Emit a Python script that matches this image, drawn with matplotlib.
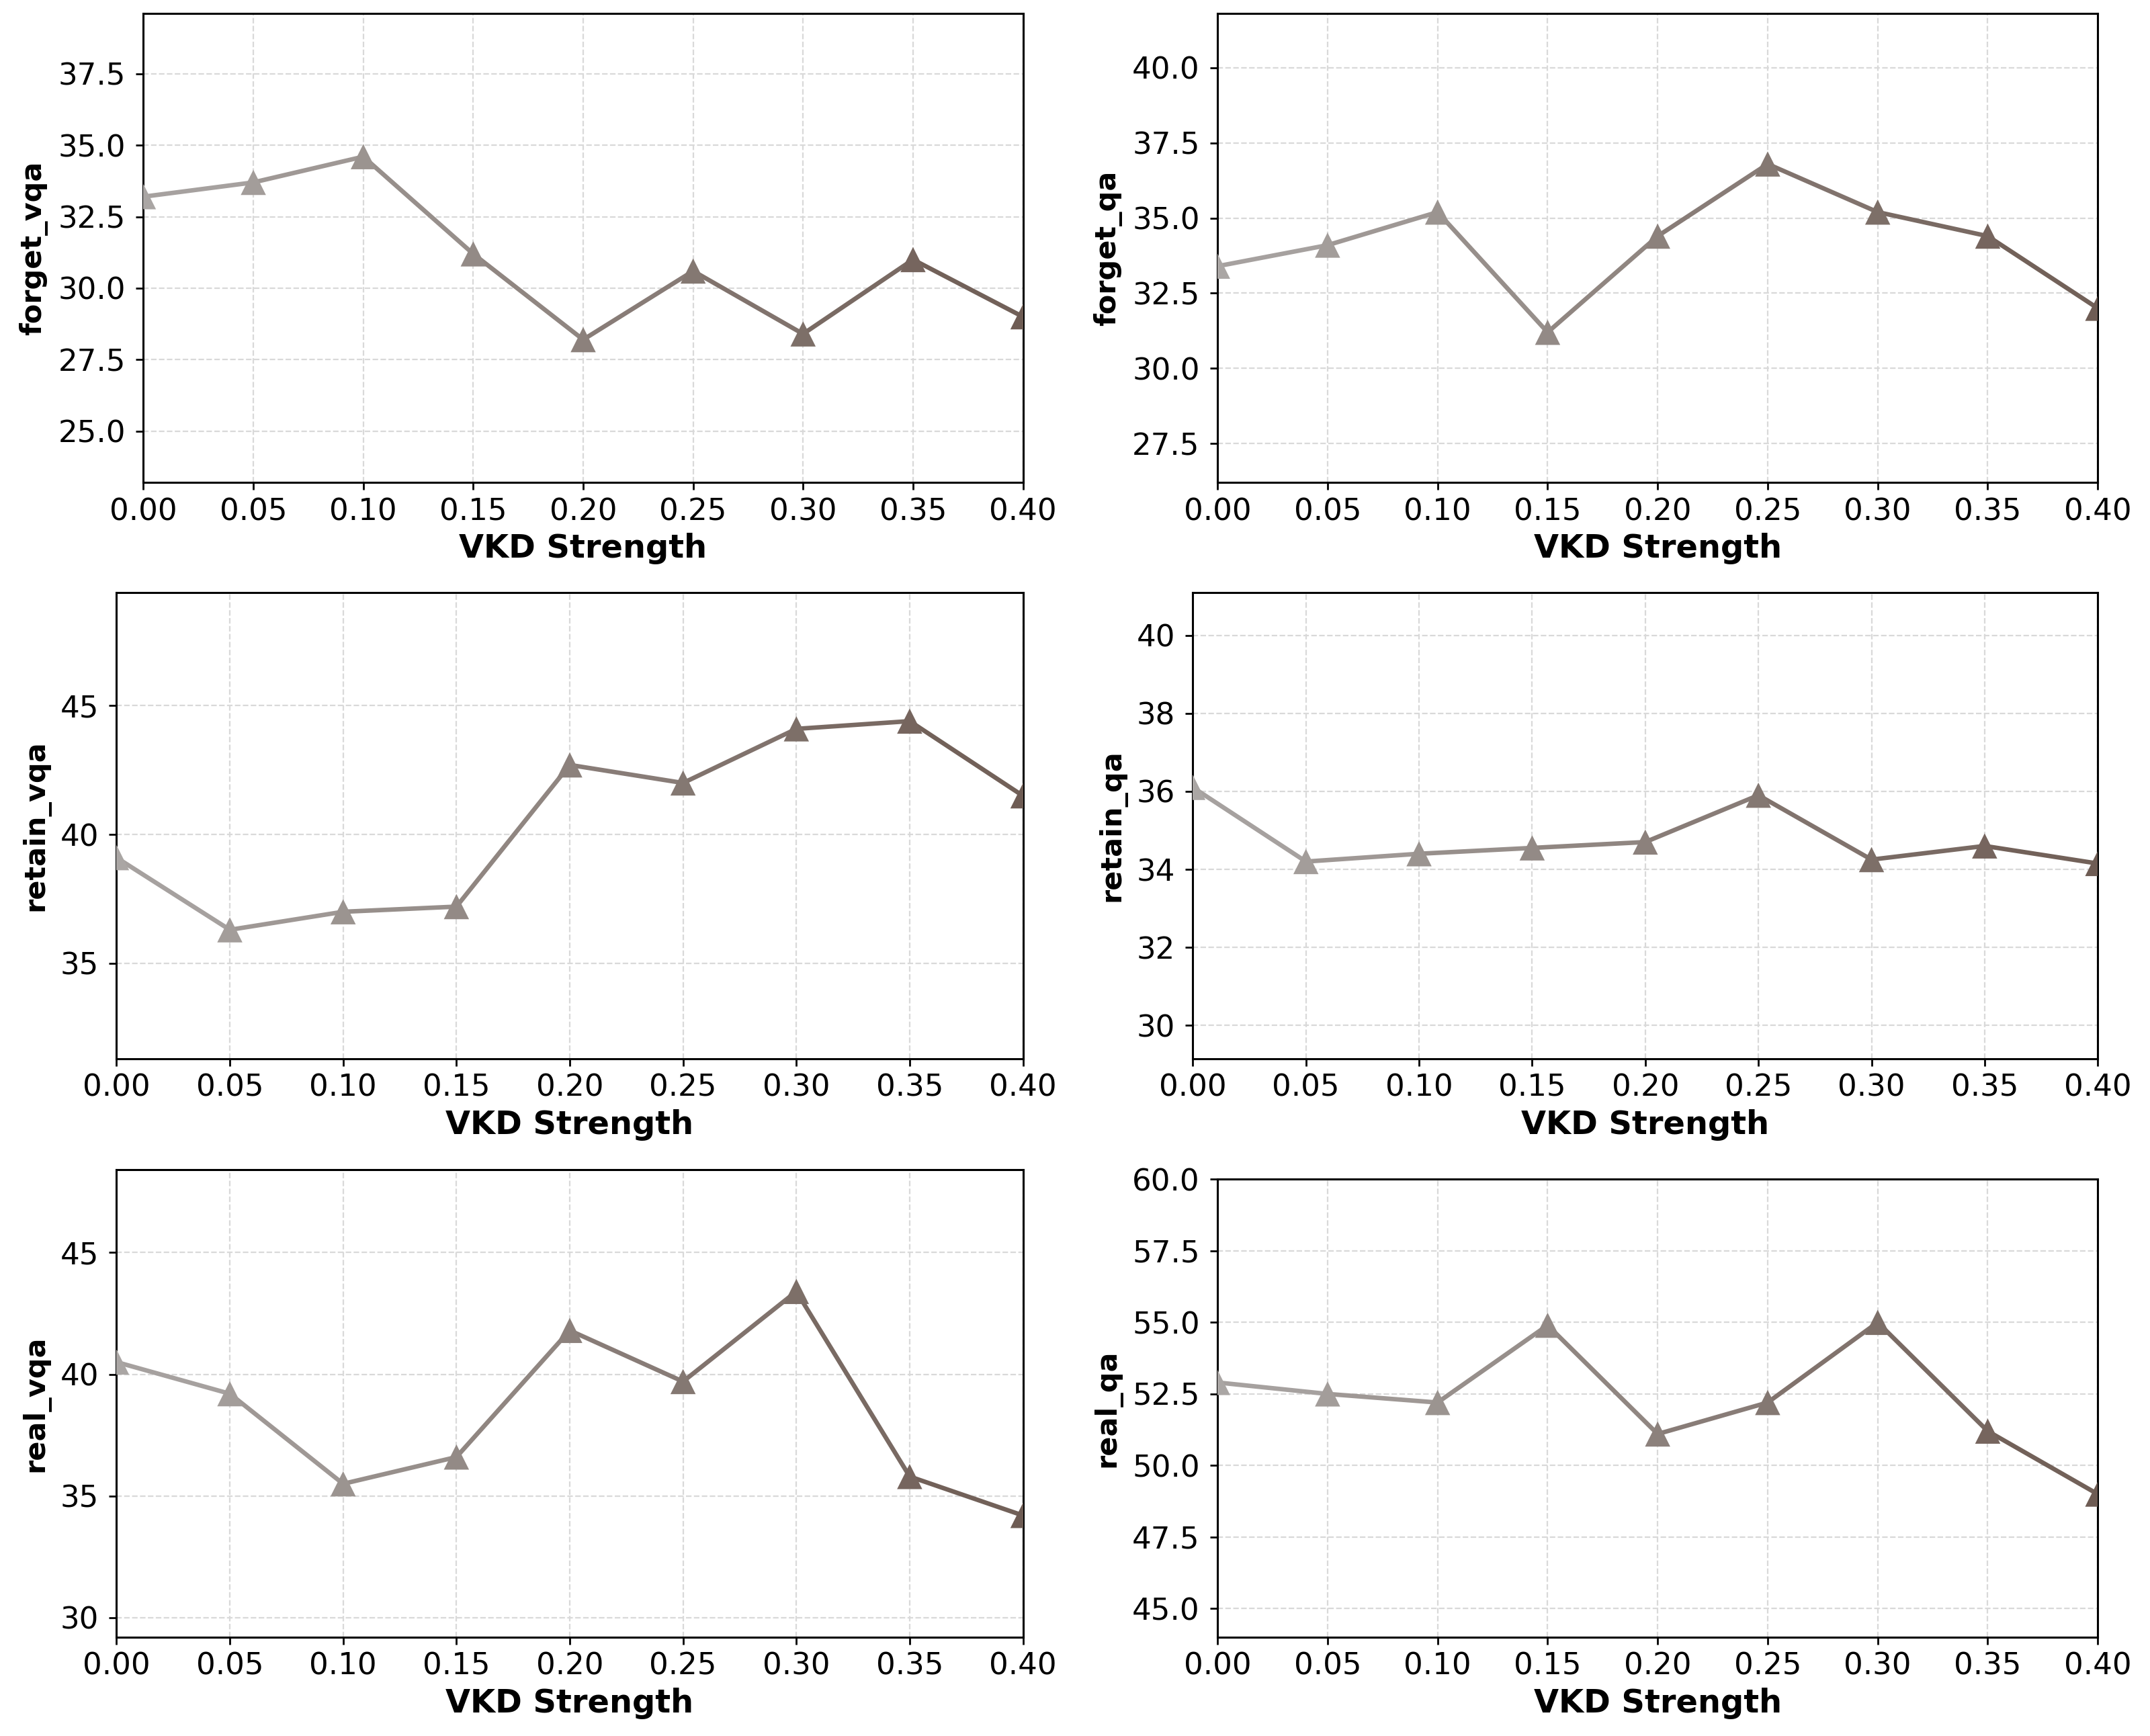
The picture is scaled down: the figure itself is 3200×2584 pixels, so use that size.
import numpy as np
import matplotlib
matplotlib.use("Agg")
import matplotlib.pyplot as plt
from matplotlib.collections import LineCollection
from matplotlib.colors import to_rgb

x_vals = [0.00, 0.05, 0.10, 0.15, 0.20, 0.25, 0.30, 0.35, 0.40]
x_ticks = [0.00, 0.05, 0.10, 0.15, 0.20, 0.25, 0.30, 0.35, 0.40]

forget_vqa = [33.2, 33.7, 34.6, 31.2, 28.2, 30.6, 28.4, 31.0, 29.0]
forget_qa = [33.4, 34.1, 35.2, 31.2, 34.4, 36.8, 35.2, 34.4, 32.0]
retain_vqa = [39.1, 36.3, 37.0, 37.2, 42.7, 42.0, 44.1, 44.4, 41.5]
retain_qa = [36.1, 34.2, 34.4, 34.55, 34.7, 35.9, 34.25, 34.6, 34.15]
real_vqa = [40.5, 39.2, 35.5, 36.6, 41.8, 39.7, 43.4, 35.8, 34.2]
real_qa = [52.9, 52.5, 52.2, 54.9, 51.1, 52.2, 55.0, 51.2, 49.0]

yticks_fvqa = [25.0, 27.5, 30.0, 32.5, 35.0, 37.5]
yticks_fqa = [27.5, 30.0, 32.5, 35.0, 37.5, 40.0]
yticks_rvqa = [35, 40, 45]
yticks_rqa = [30, 32, 34, 36, 38, 40]
yticks_realvqa = [30, 35, 40, 45]
yticks_realqa = [45.0, 47.5, 50.0, 52.5, 55.0, 57.5, 60.0]

panels = [
    ("forget_vqa", forget_vqa, yticks_fvqa, [0.0667, 0.7220, 0.4091, 0.2701]),
    ("forget_qa", forget_qa, yticks_fqa, [0.5663, 0.7220, 0.4094, 0.2701]),
    ("retain_vqa", retain_vqa, yticks_rvqa, [0.0542, 0.3902, 0.4216, 0.2686]),
    ("retain_qa", retain_qa, yticks_rqa, [0.5548, 0.3902, 0.4209, 0.2686]),
    ("real_vqa", real_vqa, yticks_realvqa, [0.0542, 0.0569, 0.4216, 0.2693]),
    ("real_qa", real_qa, yticks_realqa, [0.5663, 0.0569, 0.4094, 0.2638]),
]

c_start = np.array(to_rgb("#aaa6a4"))
c_end = np.array(to_rgb("#6e5c54"))

fig = plt.figure(figsize=(32, 25.84), dpi=100)

for name, vals, yt, pos in panels:
    ax = fig.add_axes(pos)
    n = len(x_vals)
    t = np.linspace(0, 1, n)
    pt_colors = [tuple(c_start + (c_end - c_start) * ti) for ti in t]
    seg_colors = [tuple(c_start + (c_end - c_start) * (t[i] + t[i + 1]) / 2) for i in range(n - 1)]
    pts = np.column_stack([x_vals, vals])
    segs = [pts[i:i + 2] for i in range(n - 1)]
    lc = LineCollection(segs, colors=seg_colors, linewidths=4.8, zorder=2, capstyle="round")
    ax.add_collection(lc)
    ax.scatter(x_vals, vals, marker="^", s=27 ** 2, c=pt_colors, zorder=3, linewidths=0)
    ax.set_xlim(0, 0.40)
    ax.set_ylim(min(vals) - 5, max(vals) + 5)
    ax.set_xticks(x_ticks)
    ax.set_xticklabels([f"{v:.2f}" for v in x_ticks])
    ax.set_yticks(yt)
    ax.tick_params(labelsize=32.5, width=2.0, length=7.6)
    ax.tick_params(axis="x", pad=8)
    ax.tick_params(axis="y", pad=11.5)
    ax.grid(True, linestyle="--", color="#d9d9d9", linewidth=1.6)
    ax.set_axisbelow(True)
    for sp in ax.spines.values():
        sp.set_linewidth(2.2)
    ax.set_xlabel("VKD Strength", fontsize=34.5, fontweight="bold", labelpad=7.5)
    ax.set_ylabel(name, fontsize=31, fontweight="bold", labelpad=11)

fig.savefig("out.png", dpi=100)
